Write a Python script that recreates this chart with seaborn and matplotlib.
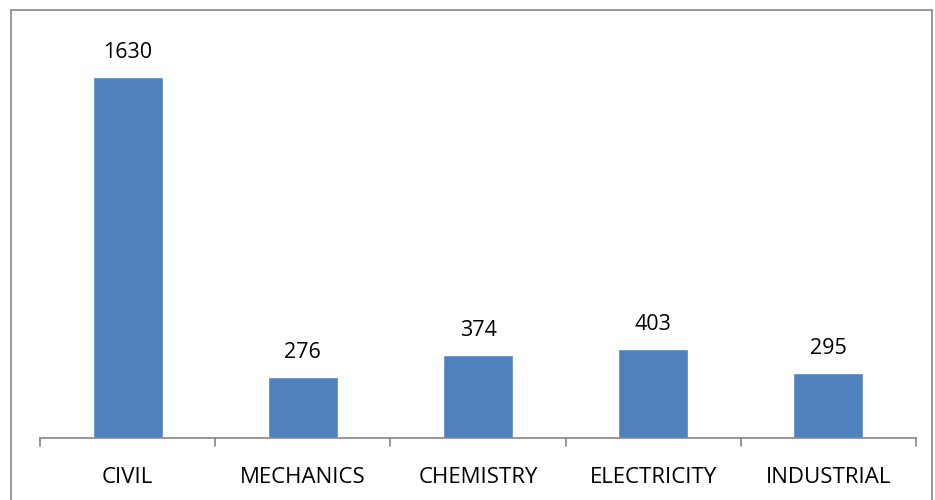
import matplotlib
matplotlib.use('Agg')
import matplotlib.pyplot as plt
import seaborn as sns
import pandas as pd
from matplotlib.patches import Rectangle

# chart data
categories = ['CIVIL', 'MECHANICS', 'CHEMISTRY', 'ELECTRICITY', 'INDUSTRIAL']
counts = [1630, 276, 374, 403, 295]

df = pd.DataFrame({'category': categories, 'count': counts})

sns.set_style('white')
plt.rcParams['font.family'] = ['Open Sans', 'DejaVu Sans']

fig = plt.figure(figsize=(9.35, 5.0), dpi=100)
ax = fig.add_axes([40 / 935, 62 / 500, 876 / 935, 399 / 500])

sns.barplot(data=df, x='category', y='count', color='#4F81BD', saturation=1,
            width=0.4, ax=ax)

ax.set_ylim(0, 1800)
ax.set_xlim(-0.5, len(categories) - 0.5)
ax.set_xlabel('')
ax.set_ylabel('')
ax.set_yticks([])

for s in ['top', 'right', 'left']:
    ax.spines[s].set_visible(False)
ax.spines['bottom'].set_color('#868686')
ax.spines['bottom'].set_linewidth(1.2)

# tick marks between categories
ax.tick_params(axis='x', length=0, pad=21, labelsize=16, labelcolor='black')
for b in [i - 0.5 for i in range(len(categories) + 1)]:
    ax.plot([b, b], [0, -0.02], color='#868686', lw=1.2,
            transform=ax.get_xaxis_transform(), clip_on=False)

# value labels
for i, v in enumerate(counts):
    ax.text(i, v + 62, str(v), ha='center', va='bottom', fontsize=15.5,
            color='black')

# outer chart border
fig.patches.append(Rectangle((11 / 935, -0.05), 921 / 935, 1.0 - 10 / 500 + 0.05,
                             transform=fig.transFigure, fill=False,
                             edgecolor='#868686', lw=1.2))

fig.savefig('out.png', dpi=100)
